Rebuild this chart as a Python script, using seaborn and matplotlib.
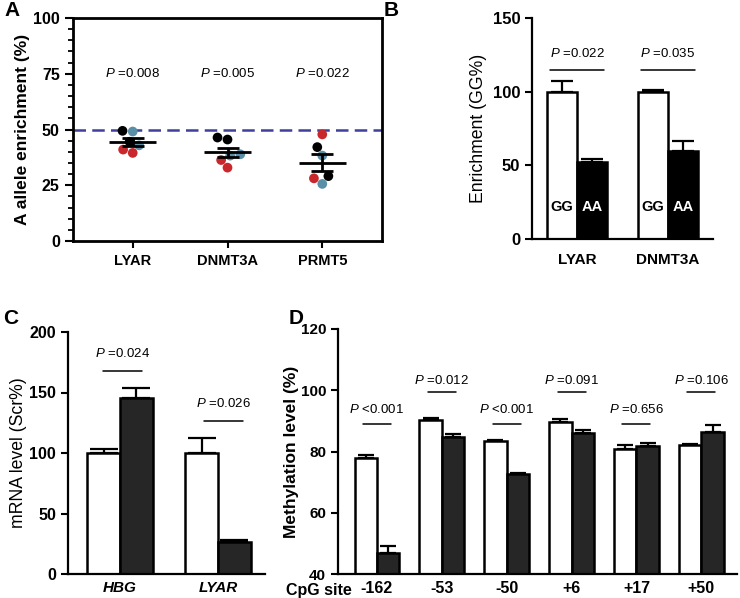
import numpy as np
import pandas as pd
import matplotlib
matplotlib.use('Agg')
import matplotlib.pyplot as plt
from matplotlib.ticker import MultipleLocator
import seaborn as sns

sns.set_style('ticks', {'axes.edgecolor': 'black', 'text.color': 'black',
                        'xtick.color': 'black', 'ytick.color': 'black',
                        'axes.labelcolor': 'black'})
plt.rcParams['font.family'] = ['Liberation Sans', 'DejaVu Sans']
plt.rcParams['mathtext.fontset'] = 'custom'
plt.rcParams['mathtext.it'] = 'Liberation Sans:italic'
plt.rcParams['mathtext.rm'] = 'Liberation Sans'

# ---------- data ----------
# A: allele enrichment per replicate (pairs of replicates: black, blue, red)
genes_a = ['LYAR', 'DNMT3A', 'PRMT5']
rep_a = ['1', '1', '2', '2', '3', '3']
lyar_a = [49.4, 44.5, 49.1, 42.9, 39.5, 41.0]
dnmt3a_a = [45.5, 46.4, 38.9, 38.3, 36.3, 32.9]
prmt5_a = [42.1, 29.1, 38.3, 25.6, 47.8, 28.1]
p_a = ['0.008', '0.005', '0.022']

# B: enrichment GG vs AA
genes_b = ['LYAR', 'DNMT3A']
gg_b = [100, 100]
gg_err_b = [7.0, 1.0]
aa_b = [52.5, 59.5]
aa_err_b = [1.8, 7.0]
p_b = ['0.022', '0.035']

# C: mRNA level
genes_c = ['HBG', 'LYAR']
scr_c = [100, 100]
scr_err_c = [3.0, 12.5]
kd_c = [145.5, 26.5]
kd_err_c = [8.5, 1.5]
p_c = ['0.024', '0.026']

# D: methylation per CpG site
sites_d = ['-162', '-53', '-50', '+6', '+17', '+50']
white_d = [78.0, 90.4, 83.4, 89.6, 80.9, 82.2]
white_err_d = [1.0, 0.4, 0.4, 1.0, 1.2, 0.4]
dark_d = [46.8, 84.6, 72.7, 86.0, 81.7, 86.4]
dark_err_d = [2.4, 1.1, 0.4, 1.1, 1.0, 2.1]
p_d = ['<0.001', '=0.012', '<0.001', '=0.091', '=0.656', '=0.106']

DARK = '#262626'
W, H = 740, 598


def rect(l, t, r, b):
    return [l / W, 1 - b / H, (r - l) / W, (b - t) / H]


def add_errbars(ax, errs_by_hue, capsize):
    for cont, errs in zip(ax.containers, errs_by_hue):
        for bar, e in zip(cont, errs):
            x = bar.get_x() + bar.get_width() / 2
            y = bar.get_height()
            ax.errorbar(x, y, yerr=[[0], [e]], fmt='none', ecolor='black',
                        elinewidth=1.6, capsize=capsize, capthick=1.6, zorder=1)


def ptext(ax, x, y, s, half, ytext):
    ax.plot([x - half, x + half], [y, y], color='black', lw=1.1)
    ax.text(x, ytext, r'$\mathit{P}$ ' + s, ha='center', va='center', fontsize=9.5)


def style_bar_axes(ax, ysize=11.5, xpad=5):
    sns.despine(ax=ax)
    for s in ['left', 'bottom']:
        ax.spines[s].set_linewidth(1.6)
    ax.tick_params(axis='y', length=5, width=1.5, labelsize=ysize)
    ax.tick_params(axis='x', length=0, pad=xpad)
    for lab in ax.get_yticklabels():
        lab.set_fontweight('bold')
    ax.set_xlabel('')


fig = plt.figure(figsize=(7.4, 5.98), dpi=100)

# ========== A ==========
axA = fig.add_axes(rect(73, 18, 382, 241))
df_a = pd.DataFrame({'gene': np.repeat(genes_a, 6),
                     'rep': rep_a * 3,
                     'val': lyar_a + dnmt3a_a + prmt5_a})
axA.axhline(50, color='#3f3f9c', lw=1.8, dashes=(5, 2.5), zorder=1)
sns.swarmplot(data=df_a, x='gene', y='val', hue='rep', order=genes_a,
              hue_order=['1', '2', '3'],
              palette=['black', '#5a8fa8', '#c8282c'], size=7,
              legend=False, ax=axA, zorder=2)
for i, g in enumerate(genes_a):
    v = df_a.loc[df_a['gene'] == g, 'val']
    m = v.mean()
    se = v.std() / np.sqrt(len(v))
    axA.hlines(m, i - 0.25, i + 0.25, color='black', lw=2, zorder=4)
    axA.errorbar(i, m, yerr=se, fmt='none', ecolor='black', elinewidth=2,
                 capsize=8, capthick=2, zorder=4)
    axA.text(i, 75, r'$\mathit{P}$ =' + p_a[i], ha='center', va='center',
             fontsize=9.5)
axA.set_xlim(-0.63, 2.63)
axA.set_ylim(0, 100)
axA.yaxis.set_major_locator(MultipleLocator(25))
axA.yaxis.set_minor_locator(MultipleLocator(5))
for s in axA.spines.values():
    s.set_linewidth(2)
axA.tick_params(axis='y', which='major', length=6, width=1.5, labelsize=11.5)
axA.tick_params(axis='y', which='minor', length=3.5, width=1.3)
axA.tick_params(axis='x', length=5, width=1.5, labelsize=10.5, pad=4)
for lab in axA.get_yticklabels() + axA.get_xticklabels():
    lab.set_fontweight('bold')
axA.set_xlabel('')
axA.set_ylabel('A allele enrichment (%)', fontsize=12.5, fontweight='bold',
               labelpad=2)

# ========== B ==========
axB = fig.add_axes(rect(532, 18, 713, 239))
df_b = pd.DataFrame({'gene': genes_b * 2,
                     'geno': ['GG'] * 2 + ['AA'] * 2,
                     'val': gg_b + aa_b})
sns.barplot(data=df_b, x='gene', y='val', hue='geno', hue_order=['GG', 'AA'],
            palette=['white', 'black'], saturation=1, width=0.667,
            edgecolor='black', linewidth=1.8, errorbar=None, legend=False,
            ax=axB, zorder=2)
add_errbars(axB, [gg_err_b, aa_err_b], capsize=8)
for cont, lab, col in zip(axB.containers, ['GG', 'AA'], ['black', 'white']):
    for bar in cont:
        axB.text(bar.get_x() + bar.get_width() / 2, 22, lab, color=col,
                 ha='center', va='center', fontsize=10.5, fontweight='bold')
for i in range(len(genes_b)):
    ptext(axB, i, 115, '=' + p_b[i], 0.3, 126)
axB.set_xlim(-0.5, 1.5)
axB.set_ylim(0, 150)
axB.set_yticks([0, 50, 100, 150])
style_bar_axes(axB, ysize=12, xpad=10)
for lab in axB.get_xticklabels():
    lab.set_fontweight('bold')
    lab.set_fontsize(11)
axB.set_ylabel('Enrichment (GG%)', fontsize=12.7)

# ========== C ==========
axC = fig.add_axes(rect(68, 332, 265, 574))
df_c = pd.DataFrame({'gene': genes_c * 2,
                     'grp': ['Scr'] * 2 + ['KD'] * 2,
                     'val': scr_c + kd_c})
sns.barplot(data=df_c, x='gene', y='val', hue='grp', hue_order=['Scr', 'KD'],
            palette=['white', DARK], saturation=1, width=0.67,
            edgecolor='black', linewidth=1.8, errorbar=None, legend=False,
            ax=axC, zorder=2)
add_errbars(axC, [scr_err_c, kd_err_c], capsize=10)
ptext(axC, 0.03, 167.5, '=' + p_c[0], 0.2, 182)
ptext(axC, 1.06, 126.5, '=' + p_c[1], 0.2, 141)
axC.set_xlim(-0.53, 1.48)
axC.set_ylim(0, 200)
axC.set_yticks([0, 50, 100, 150, 200])
style_bar_axes(axC)
for lab in axC.get_xticklabels():
    lab.set_fontweight('bold')
    lab.set_fontstyle('italic')
    lab.set_fontsize(11)
axC.set_ylabel('mRNA level (Scr%)', fontsize=12.7, labelpad=2)

# ========== D ==========
axD = fig.add_axes(rect(338, 329, 737, 574))
df_d = pd.DataFrame({'site': sites_d * 2,
                     'grp': ['Scr'] * 6 + ['KD'] * 6,
                     'val': white_d + dark_d})
sns.barplot(data=df_d, x='site', y='val', hue='grp', hue_order=['Scr', 'KD'],
            palette=['white', DARK], saturation=1, width=0.69,
            edgecolor='black', linewidth=1.8, errorbar=None, legend=False,
            ax=axD, zorder=2)
add_errbars(axD, [white_err_d, dark_err_d], capsize=6)
for i, p in enumerate(p_d):
    if i % 2 == 0:
        ptext(axD, i, 88.9, p, 0.215, 93.6)
    else:
        ptext(axD, i, 99.3, p, 0.215, 103.1)
axD.set_xlim(-0.6, 5.55)
axD.set_ylim(40, 120)
axD.set_yticks([40, 60, 80, 100, 120])
style_bar_axes(axD, ysize=11)
for lab in axD.get_xticklabels():
    lab.set_fontweight('bold')
    lab.set_fontsize(11.5)
axD.text(-0.89, -0.066, 'CpG site', transform=axD.get_xaxis_transform(),
         ha='center', va='center', fontsize=11.5, fontweight='bold')
axD.set_ylabel('Methylation level (%)', fontsize=12.5, fontweight='bold',
               labelpad=1)

# panel letters
for lab, x, y in [('A', 4, 11), ('B', 384, 11), ('C', 3, 319), ('D', 289, 319)]:
    fig.text(x / W, 1 - y / H, lab, fontsize=15, fontweight='bold',
             ha='left', va='center')

fig.savefig('out.png', dpi=100)
